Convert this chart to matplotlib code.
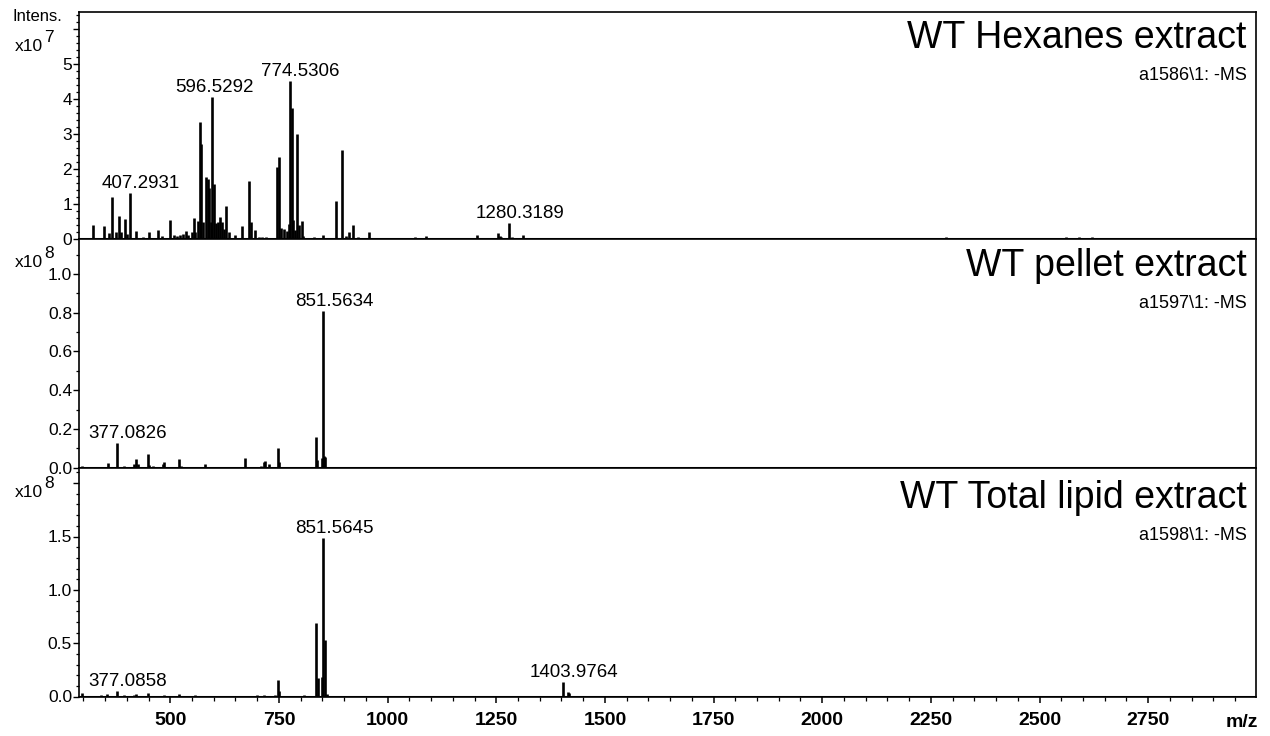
import matplotlib
matplotlib.use("Agg")
import matplotlib.pyplot as plt
from matplotlib.ticker import MultipleLocator

plt.rcParams["font.family"] = ["Liberation Sans", "DejaVu Sans"]

# Peak lists: m/z and intensity (in units of the panel's x10^n multiplier)
hex_mz = [322, 348, 360, 367, 374, 381, 386, 395, 400, 407.2931, 422, 438,
          452, 472, 480, 500, 508, 515, 522, 530, 536, 541, 549, 554, 558,
          564, 568, 571, 576, 582, 586, 590, 593, 596.5292, 600.8, 605, 609,
          615, 619, 624, 629, 634, 648, 665, 681, 686, 696, 705, 712, 720,
          746, 751, 755, 762, 769, 773, 774.5306, 779, 783, 787, 791.5, 796,
          802, 806, 817, 830, 846, 852, 870, 882, 894, 904, 912, 921, 933,
          940, 958, 968, 1008, 1020, 1042, 1062, 1088, 1094, 1205, 1254,
          1258, 1262, 1280.3189, 1286, 1311, 1776, 2131, 2284, 2307, 2339,
          2455, 2501, 2560, 2590, 2620, 2646, 2685, 2762, 2801]
hex_int = [0.41, 0.38, 0.18, 1.20, 0.20, 0.68, 0.22, 0.58, 0.15, 1.33, 0.25,
           0.06, 0.20, 0.27, 0.10, 0.55, 0.12, 0.10, 0.12, 0.16, 0.24, 0.12,
           0.20, 0.61, 0.20, 0.53, 3.36, 2.72, 0.50, 1.77, 1.72, 1.46, 0.50,
           4.06, 1.57, 0.48, 0.50, 0.65, 0.50, 0.30, 0.95, 0.20, 0.12, 0.38,
           1.68, 0.50, 0.27, 0.06, 0.06, 0.06, 2.08, 2.36, 0.33, 0.30, 0.25,
           0.44, 4.53, 3.74, 0.57, 0.27, 3.00, 0.41, 0.52, 0.10, 0.05, 0.06,
           0.05, 0.12, 0.05, 1.10, 2.55, 0.10, 0.20, 0.41, 0.06, 0.05, 0.20,
           0.05, 0.05, 0.05, 0.04, 0.06, 0.11, 0.05, 0.12, 0.19, 0.10, 0.06,
           0.48, 0.07, 0.12, 0.04, 0.04, 0.06, 0.05, 0.05, 0.04, 0.05, 0.06,
           0.07, 0.06, 0.05, 0.04, 0.04, 0.05]

pellet_mz = [297, 357, 377.0826, 393, 417, 422, 426, 448, 452, 460, 483, 486,
             521, 524, 580, 672, 708, 715, 718, 728, 747.6, 750, 834.6, 837,
             848, 851.5634, 853, 856]
pellet_int = [0.01, 0.026, 0.125, 0.01, 0.017, 0.043, 0.017, 0.069, 0.015,
              0.008, 0.02, 0.03, 0.043, 0.01, 0.02, 0.05, 0.01, 0.03, 0.035,
              0.02, 0.104, 0.03, 0.156, 0.04, 0.05, 0.81, 0.06, 0.057]

total_mz = [297, 340, 355, 377.0858, 393, 417, 422, 448, 486, 521, 556, 700,
            715, 740, 747.6, 750, 808, 834.6, 839, 848, 851.5645, 856, 860,
            1403.9764, 1415, 1418]
total_int = [0.03, 0.01, 0.02, 0.055, 0.012, 0.015, 0.02, 0.034, 0.01, 0.028,
             0.01, 0.01, 0.012, 0.015, 0.156, 0.05, 0.012, 0.69, 0.17, 0.18,
             1.49, 0.53, 0.02, 0.14, 0.04, 0.03]

titles = ["WT Hexanes extract", "WT pellet extract", "WT Total lipid extract"]
run_ids = ["a1586\\1: -MS", "a1597\\1: -MS", "a1598\\1: -MS"]
exponents = ["7", "8", "8"]
labelled = [[407.2931, 596.5292, 774.5306, 1280.3189],
            [377.0826, 851.5634],
            [377.0858, 851.5645, 1403.9764]]
ytick_vals = [[0, 1, 2, 3, 4, 5, 6],
              [0.0, 0.2, 0.4, 0.6, 0.8, 1.0],
              [0.0, 0.5, 1.0, 1.5, 2.0]]
ytick_text = [["0", "1", "2", "3", "4", "5", ""],
              ["0.0", "0.2", "0.4", "0.6", "0.8", "1.0"],
              ["0.0", "0.5", "1.0", "1.5", ""]]
xtick_vals = [500, 750, 1000, 1250, 1500, 1750, 2000, 2250, 2500, 2750]
ytops = [6.5, 1.178, 2.145]
yminor = [0.2, 0.1, 0.1]

spectra = [(hex_mz, hex_int), (pellet_mz, pellet_int), (total_mz, total_int)]

# layout in pixels
W, H = 1270, 736
left_px, right_px = 79, 1256
panel_px = [(11.7, 239.5), (239.5, 467.7), (467.7, 696.5)]
title_off = [36.7, 37.0, 40.5]
run_off = [68.5, 68.5, 72.0]
# horizontal shift of each peak label relative to its peak, in pixels
label_dx = {596.5292: 2}

fig = plt.figure(figsize=(W / 100, H / 100), dpi=100)

for i, (mz, inten) in enumerate(spectra):
    top, bot = panel_px[i]
    ax = fig.add_axes([left_px / W, 1 - bot / H,
                       (right_px - left_px) / W, (bot - top) / H])

    ax.vlines(mz, 0, inten, color="black", lw=1.9)
    ax.axhline(0, color="black", lw=2.2)

    ax.set_xlim(290, 2998)
    ax.set_ylim(0, ytops[i])

    for sp in ax.spines.values():
        sp.set_linewidth(1.2)

    ax.set_yticks(ytick_vals[i])
    ax.set_yticklabels(ytick_text[i])
    ax.yaxis.set_minor_locator(MultipleLocator(yminor[i]))
    ax.tick_params(axis="y", which="major", direction="out", length=4,
                   width=1, pad=1, labelsize=12.5)
    ax.tick_params(axis="y", which="minor", direction="out", length=2.3,
                   width=0.9)
    ax.tick_params(axis="y", right=False)

    ax.set_xticks(xtick_vals)
    ax.xaxis.set_minor_locator(MultipleLocator(50))
    if i < 2:
        ax.tick_params(axis="x", which="both", bottom=False,
                       labelbottom=False)
    else:
        ax.tick_params(axis="x", which="major", direction="out", length=4.5,
                       width=1.1, pad=7, labelsize=14)
        ax.tick_params(axis="x", which="minor", direction="out", length=3,
                       width=0.9)
        for lab in ax.get_xticklabels():
            lab.set_fontweight("bold")

    # peak annotations
    for m in labelled[i]:
        h = inten[mz.index(m)]
        ax.annotate(f"{m:.4f}", xy=(m, h),
                    xytext=(label_dx.get(m, 11), 5),
                    textcoords="offset pixels", ha="center", va="baseline",
                    fontsize=13.5)

    # sample name and run id
    hpx = bot - top
    xr = (1246.7 - left_px) / (right_px - left_px)
    ax.text(xr, 1 - title_off[i] / hpx, titles[i], transform=ax.transAxes,
            ha="right", va="baseline", fontsize=27)
    ax.text(xr, 1 - run_off[i] / hpx, run_ids[i], transform=ax.transAxes,
            ha="right", va="baseline", fontsize=13)

    # x10^n multiplier
    base_y = [50.7, 266.7, 496.7][i]
    fig.text(15 / W, 1 - base_y / H, "x10", ha="left", va="baseline",
             fontsize=12.5)
    fig.text(44.5 / W, 1 - (base_y - 8.5) / H, exponents[i], ha="left",
             va="baseline", fontsize=12.5)

fig.text(12 / W, 1 - 20.7 / H, "Intens.", ha="left", va="baseline",
         fontsize=12)
fig.text(1258 / W, 1 - 727 / H, "m/z", ha="right", va="baseline",
         fontsize=14, fontweight="bold")

fig.savefig("out.png", dpi=100)
